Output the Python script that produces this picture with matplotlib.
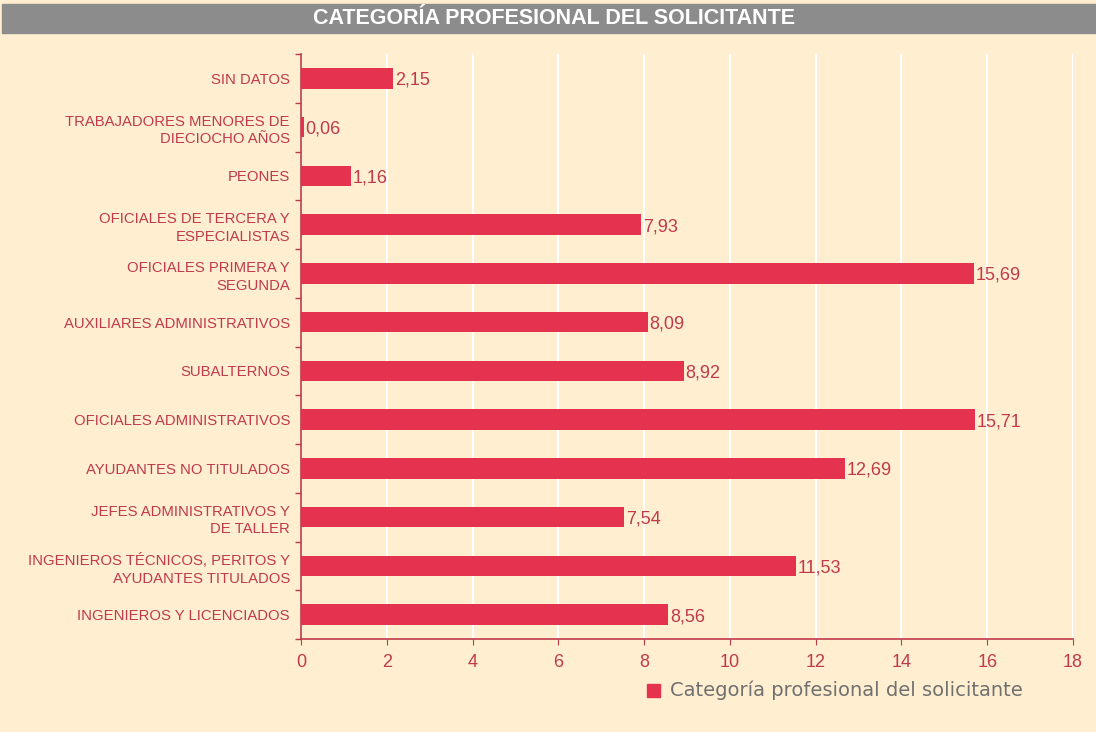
import matplotlib.pyplot as plt
import numpy as np

categorias = ['SIN DATOS', 'TRABAJADORES MENORES DE\nDIECIOCHO AÑOS', 'PEONES',
              'OFICIALES DE TERCERA Y\nESPECIALISTAS', 'OFICIALES PRIMERA Y\nSEGUNDA',
              'AUXILIARES ADMINISTRATIVOS', 'SUBALTERNOS', 'OFICIALES ADMINISTRATIVOS',
              'AYUDANTES NO TITULADOS', 'JEFES ADMINISTRATIVOS Y\nDE TALLER',
              'INGENIEROS TÉCNICOS, PERITOS Y\nAYUDANTES TITULADOS', 'INGENIEROS Y LICENCIADOS']
valores = [2.15, 0.06, 1.16, 7.93, 15.69, 8.09, 8.92, 15.71, 12.69, 7.54, 11.53, 8.56]
xticks = [0, 2, 4, 6, 8, 10, 12, 14, 16, 18]

fondo = '#FFEFD0'
rojo = '#E5334F'
rojo_txt = '#C03A4C'

plt.rcParams['font.family'] = ['Liberation Sans', 'DejaVu Sans']

fig = plt.figure(figsize=(10.96, 7.32), dpi=100)
fig.patch.set_facecolor(fondo)

# barra de titulo
fig.patches.append(plt.Rectangle((2 / 1096, 1 - 33 / 732), 1, 29 / 732,
                                 transform=fig.transFigure, color='#8C8C8C', zorder=0))
fig.text(554 / 1096, 1 - 19 / 732, 'CATEGORÍA PROFESIONAL DEL SOLICITANTE',
         color='white', fontsize=15.5, fontweight='bold', ha='center', va='center')

ax = fig.add_axes([301 / 1096, 1 - 639 / 732, (1073 - 301) / 1096, (639 - 54) / 732])
ax.set_facecolor(fondo)

y = np.arange(len(categorias))
ax.barh(y, valores, height=0.42, color=rojo, zorder=3)
for yi, v in zip(y, valores):
    ax.text(v + 0.04, yi + 0.04, f'{v:.2f}'.replace('.', ','), va='center', ha='left',
            color=rojo_txt, fontsize=13, zorder=4)

ax.set_ylim(len(categorias) - 0.5, -0.5)
ax.set_xlim(0, 18)
ax.set_xticks(xticks)
ax.set_xticklabels([str(t) for t in xticks])
ax.set_yticks(y)
ax.set_yticklabels(categorias, linespacing=1.35)
ax.set_yticks(np.arange(len(categorias) + 1) - 0.5, minor=True)
ax.tick_params(axis='y', which='major', length=0, pad=8, labelsize=10.7, labelcolor=rojo_txt)
ax.tick_params(axis='y', which='minor', length=4, color=rojo_txt, width=1)
ax.tick_params(axis='x', length=4, color=rojo_txt, labelsize=13, labelcolor=rojo_txt, pad=7)

ax.grid(axis='x', color='white', linewidth=1.5, zorder=1)
for s in ['top', 'right']:
    ax.spines[s].set_visible(False)
for s in ['left', 'bottom']:
    ax.spines[s].set_color(rojo_txt)
    ax.spines[s].set_linewidth(1.2)

# leyenda
fig.patches.append(plt.Rectangle((647 / 1096, 1 - 697 / 732), 13 / 1096, 13 / 732,
                                 transform=fig.transFigure, color=rojo))
fig.text(670 / 1096, 1 - 690 / 732, 'Categoría profesional del solicitante',
         color='#707070', fontsize=14, ha='left', va='center', family='DejaVu Sans')

fig.savefig('out.png', dpi=100, facecolor=fondo)
